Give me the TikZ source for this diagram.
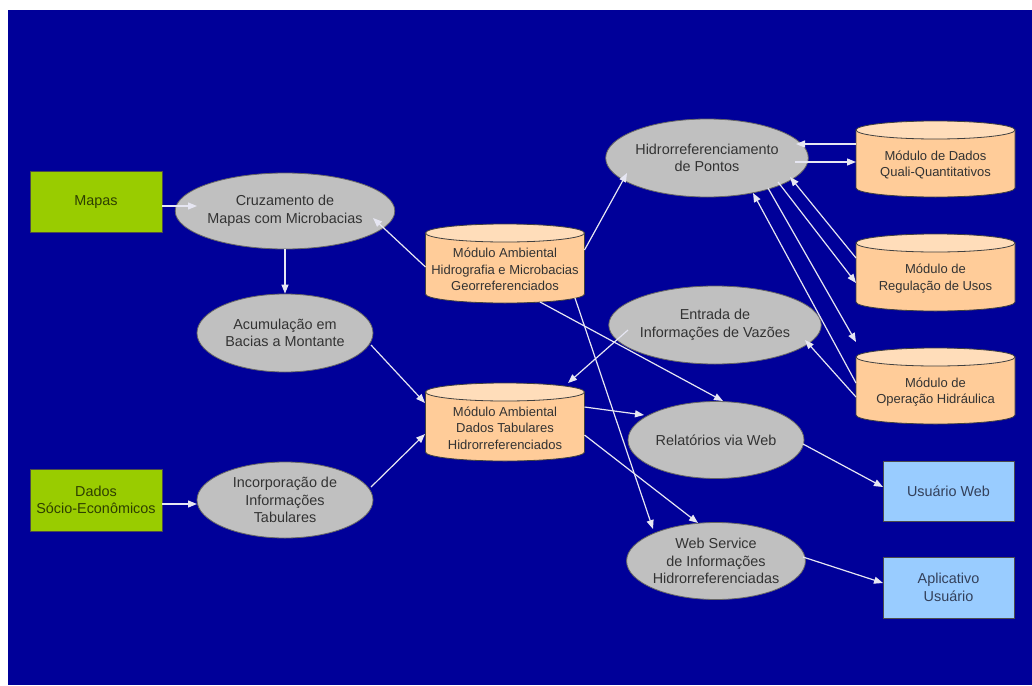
\documentclass[tikz,border=0pt]{standalone}
\usepackage{fontspec}
\setmainfont{Liberation Sans}
\usetikzlibrary{shapes.geometric,arrows.meta}
\definecolor{bgblue}{HTML}{000099}
\definecolor{ellgray}{HTML}{C0C0C0}
\definecolor{cylbody}{HTML}{FFCC99}
\definecolor{cylcap}{HTML}{FFDDBA}
\definecolor{greenbox}{HTML}{99CC00}
\definecolor{bluebox}{HTML}{99CCFF}
\definecolor{txtgray}{HTML}{333333}
\definecolor{arrcol}{HTML}{E6E6F2}
\definecolor{greentxt}{HTML}{2E3F00}
\definecolor{bluetxt}{HTML}{33405A}
\tikzset{
  ell/.style={ellipse, minimum width=176, minimum height=77, inner sep=0,
    fill=ellgray, draw=black!60, line width=0.8, text=txtgray, align=center,
    font=\fontsize{14.4}{17.5}\selectfont},
  gbox/.style={rectangle, minimum width=132, minimum height=61, inner sep=0,
    fill=greenbox, draw=black!70, line width=0.8, text=greentxt, align=center,
    font=\fontsize{14.4}{17.5}\selectfont},
  bbox/.style={rectangle, minimum width=131, minimum height=60, inner sep=0,
    fill=bluebox, draw=black!70, line width=0.8, text=bluetxt, align=center,
    font=\fontsize{14.4}{17.5}\selectfont},
  cyltxt/.style={text=txtgray, align=center, inner sep=0,
    font=\fontsize{13}{16.5}\selectfont},
  cylline/.style={draw=black!75, line width=0.8},
  arr/.style={draw=arrcol, line width=1.2, -{Triangle[length=9pt,width=7pt]}}
}
\newcommand{\mycyl}[5]{%
  \pgfmathsetmacro\cylh{#4/2}%
  \fill[cylbody] ({#2-79.5},{#3-\cylh+9}) -- ({#2-79.5},{#3+\cylh-9})
     arc[start angle=180,end angle=0,x radius=79.5,y radius=9]
     -- ({#2+79.5},{#3-\cylh+9}) -- cycle;
  \draw[cylline] ({#2-79.5},{#3-\cylh+9}) -- ({#2-79.5},{#3+\cylh-9})
     arc[start angle=180,end angle=0,x radius=79.5,y radius=9]
     -- ({#2+79.5},{#3-\cylh+9});
  \draw[cylline,fill=cylcap] (#2,{#3-\cylh+9}) ellipse[x radius=79.5,y radius=9];
  \node[inner sep=0,minimum width=159,minimum height=#4] (#1) at (#2,#3) {};
  \node[cyltxt] (#1t) at (#2,{#3+6}) {#5};
}
\begin{document}
\begin{tikzpicture}[x=1pt,y=-1pt]
\useasboundingbox (0,0) rectangle (1032,685);
\fill[white] (0,0) rectangle (1032,685);
\fill[bgblue] (8,10) rectangle (1032,685);

% boxes
\node[gbox] (mapas) at (96,202) {Mapas};
\node[gbox,minimum height=62] (dados) at (96,500) {Dados\\Sócio-Econômicos};
\node[bbox] (uweb) at (948.5,491.5) {Usuário Web};
\node[bbox,minimum height=61] (aplic) at (948.5,587.5) {Aplicativo\\Usuário};

% ellipses
\node[ell,minimum height=76] (cruz) at (285,211) {Cruzamento de\\Mapas com Microbacias};
\node[ell,minimum height=78] (acum) at (285,333) {Acumulação em\\Bacias a Montante};
\node[ell,minimum height=76] (incorp) at (285,500) {Incorporação de\\Informações\\Tabulares};
\node[ell,minimum height=78] (hidro) at (707,158) {Hidrorreferenciamento\\de Pontos};
\node[ell,minimum height=78] (entrada) at (715,325) {Entrada de\\Informações de Vazões};
\node[ell] (relat) at (716,440) {Relatórios via Web};
\node[ell] (websvc) at (716,561) {Web Service\\de Informações\\Hidrorreferenciadas};

% cylinders
\mycyl{cylA}{505}{263.5}{79}{Módulo Ambiental\\Hidrografia e Microbacias\\Georreferenciados}
\mycyl{cylB}{505}{422}{78}{Módulo Ambiental\\Dados Tabulares\\Hidrorreferenciados}
\mycyl{qual}{935.5}{159}{76}{Módulo de Dados\\Quali-Quantitativos}
\mycyl{regul}{935.5}{272.5}{77}{Módulo de\\Regulação de Usos}
\mycyl{oper}{935.5}{386}{76}{Módulo de\\Operação Hidráulica}

% connectors
\draw[arr] ([shift={(66,4)}]mapas.center) -- ([shift={(-88,-5)}]cruz.center);
\draw[arr] (cruz.south) -- (acum.north);
\draw[arr] ([shift={(66,4)}]dados.center) -- ([shift={(-88,4)}]incorp.center);
\draw[arr] ([shift={(-79.5,3.5)}]cylA.center) -- ([shift={(88,7)}]cruz.center);
\draw[arr] ([shift={(79.5,-13.5)}]cylA.center) -- ([shift={(-80,15)}]hidro.center);
\draw[arr] ([shift={(35,38.5)}]cylA.center) -- ([shift={(7,-39)}]relat.center);
\draw[arr] ([shift={(70,34.5)}]cylA.center) -- ([shift={(-63,-32)}]websvc.center);
\draw[arr] ([shift={(79.5,-15)}]cylB.center) -- ([shift={(-72,-25)}]relat.center);
\draw[arr] ([shift={(79.5,13)}]cylB.center) -- ([shift={(-18,-38)}]websvc.center);
\draw[arr] ([shift={(-87,5)}]entrada.center) -- ([shift={(63,-39)}]cylB.center);
\draw[arr] ([shift={(86,12)}]acum.center) -- ([shift={(-80,-19)}]cylB.center);
\draw[arr] ([shift={(86,-13)}]incorp.center) -- ([shift={(-80,12)}]cylB.center);
\draw[arr] ([shift={(87,4)}]relat.center) -- ([shift={(-65.5,-4.5)}]uweb.center);
\draw[arr] ([shift={(87,-4)}]websvc.center) -- ([shift={(-65.5,-4.5)}]aplic.center);
\draw[arr] ([shift={(-79.5,-15)}]qual.center) -- ([shift={(89,-14)}]hidro.center);
\draw[arr] ([shift={(88,4)}]hidro.center) -- ([shift={(-79.5,3)}]qual.center);
\draw[arr] ([shift={(-79.5,-14.5)}]regul.center) -- ([shift={(83,19)}]hidro.center);
\draw[arr] ([shift={(71,24)}]hidro.center) -- ([shift={(-79.5,10.5)}]regul.center);
\draw[arr] ([shift={(61,30)}]hidro.center) -- ([shift={(-79.5,-44)}]oper.center);
\draw[arr] ([shift={(-79.5,-3)}]oper.center) -- ([shift={(46,35)}]hidro.center);
\draw[arr] ([shift={(-79.5,11)}]oper.center) -- ([shift={(90,15)}]entrada.center);
\end{tikzpicture}
\end{document}
